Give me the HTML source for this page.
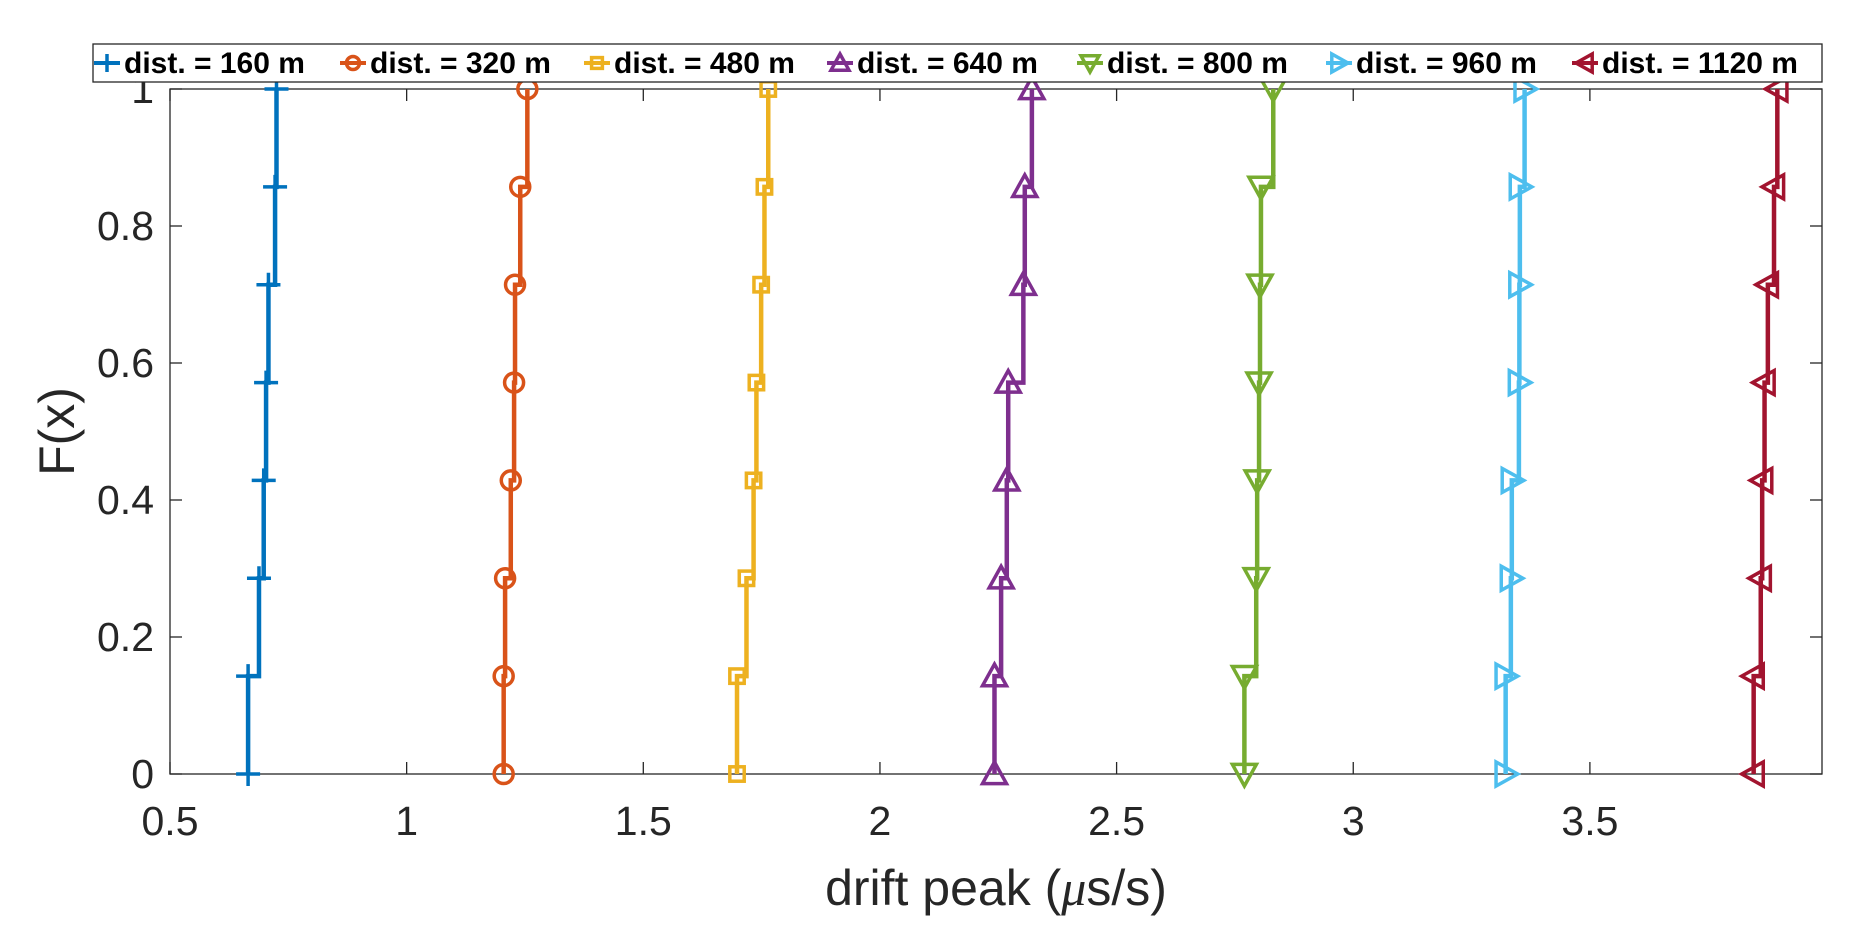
<!DOCTYPE html>
<html><head><meta charset="utf-8"><style>
html,body{margin:0;padding:0;background:#fff;}
svg{display:block;font-family:"Liberation Sans",sans-serif;}
</style></head><body>
<svg id="chart" width="1862" height="931" viewBox="0 0 1862 931" xmlns="http://www.w3.org/2000/svg">
<g id="axes"></g>
<g id="series"></g>
<g id="legend"></g>
</svg>
<script>
const seriesNames = ["dist. = 160 m","dist. = 320 m","dist. = 480 m","dist. = 640 m","dist. = 800 m","dist. = 960 m","dist. = 1120 m"];
const cdfLevels = [0,1/7,2/7,3/7,4/7,5/7,6/7,1];
const d160 = [0.665,0.665,0.688,0.698,0.703,0.708,0.722,0.725];
const d320 = [1.205,1.205,1.208,1.220,1.227,1.229,1.240,1.255];
const d480 = [1.698,1.698,1.718,1.733,1.739,1.749,1.756,1.764];
const d640 = [2.242,2.242,2.256,2.268,2.271,2.303,2.306,2.321];
const d800 = [2.770,2.770,2.795,2.797,2.801,2.803,2.805,2.831];
const d960 = [3.322,3.322,3.333,3.335,3.350,3.351,3.352,3.362];
const d1120 = [3.846,3.846,3.861,3.864,3.869,3.876,3.889,3.896];
const seriesData = [d160,d320,d480,d640,d800,d960,d1120];
const xTicks = [0.5,1,1.5,2,2.5,3,3.5];
const xTickLabels = ["0.5","1","1.5","2","2.5","3","3.5"];
const yTicks = [0,0.2,0.4,0.6,0.8,1];
const yTickLabels = ["0","0.2","0.4","0.6","0.8","1"];

const colors = ["#0072BD","#D95319","#EDB120","#7E2F8E","#77AC30","#4DBEEE","#A2142F"];
const markers = ["plus","circle","square","tri-up","tri-down","tri-right","tri-left"];
const L=170,R=1822,T=89,B=774, X0=0.5, X1=0.5+(R-L)/473.3;
const xs=v=>L+(v-X0)/(X1-X0)*(R-L);
const ys=v=>B-v*(B-T);
const NS="http://www.w3.org/2000/svg";
function mk(tag,attrs,parent){const e=document.createElementNS(NS,tag);for(const k in attrs)e.setAttribute(k,attrs[k]);parent.appendChild(e);return e;}
const axes=document.getElementById('axes'),ser=document.getElementById('series'),leg=document.getElementById('legend');
const box=mk('rect',{x:L,y:T,width:R-L,height:B-T,fill:'#fff',stroke:'#262626','stroke-width':1.3},axes);


xTicks.forEach((t,i)=>{const x=xs(t);
 mk('line',{x1:x,x2:x,y1:B,y2:B-12,stroke:'#262626','stroke-width':1.3},axes);
 mk('line',{x1:x,x2:x,y1:T,y2:T+12,stroke:'#262626','stroke-width':1.3},axes);
 const tx=mk('text',{x:x,y:B+61,'text-anchor':'middle','font-size':41,fill:'#262626'},axes);tx.textContent=xTickLabels[i];
 
 
});
yTicks.forEach((t,i)=>{const y=ys(t);
 mk('line',{x1:L,x2:L+12,y1:y,y2:y,stroke:'#262626','stroke-width':1.3},axes);
 mk('line',{x1:R,x2:R-12,y1:y,y2:y,stroke:'#262626','stroke-width':1.3},axes);
 const tx=mk('text',{x:L-16,y:y+14,'text-anchor':'end','font-size':41,fill:'#262626'},axes);tx.textContent=yTickLabels[i];
 
 
});
const xl=mk('text',{x:(L+R)/2,y:905,'text-anchor':'middle','font-size':50,fill:'#262626'},axes);
xl.innerHTML='drift peak (<tspan font-family="Liberation Serif" font-style="italic">μ</tspan>s/s)';


const yl=mk('text',{x:0,y:0,'text-anchor':'middle','font-size':50,fill:'#262626',transform:`translate(74,${(T+B)/2}) rotate(-90)`},axes);
yl.textContent='F(x)';



function marker(type,cx,cy,col,g,sz){const s=sz||12,a={fill:'none',stroke:col,'stroke-width':3.5};
 if(type==='plus'){mk('path',Object.assign({d:`M${cx-s} ${cy}H${cx+s}M${cx} ${cy-s}V${cy+s}`},a),g);}
 else if(type==='circle'){mk('circle',Object.assign({cx:cx,cy:cy,r:s-2.5},a),g);}
 else if(type==='square'){mk('rect',Object.assign({x:cx-s*0.6,y:cy-s*0.6,width:s*1.2,height:s*1.2},a),g);}
 else{let p;const h=s;
  if(type==='tri-up')p=[[cx,cy-h],[cx+h,cy+h*0.8],[cx-h,cy+h*0.8]];
  if(type==='tri-down')p=[[cx,cy+h],[cx+h,cy-h*0.8],[cx-h,cy-h*0.8]];
  if(type==='tri-right')p=[[cx+h,cy],[cx-h*0.8,cy-h],[cx-h*0.8,cy+h]];
  if(type==='tri-left')p=[[cx-h,cy],[cx+h*0.8,cy-h],[cx+h*0.8,cy+h]];
  mk('polygon',Object.assign({points:p.map(q=>q.join(',')).join(' ')},a),g);}
}
seriesData.forEach((d,si)=>{
 const g=mk('g',{},ser);
 
 
 let path=`M${xs(d[0])} ${ys(cdfLevels[0])}`;
 for(let i=1;i<d.length;i++){path+=`H${xs(d[i])}V${ys(cdfLevels[i])}`;}
 mk('path',{d:path,fill:'none',stroke:colors[si],'stroke-width':4.5},g);
 d.forEach((v,i)=>marker(markers[si],xs(v),ys(cdfLevels[i]),colors[si],g));
});
const lb=mk('rect',{x:93,y:44,width:R-93,height:38,fill:'#fff',stroke:'#262626','stroke-width':1.3},leg);


const legC=[107,353,597,840,1090,1339,1585];
seriesNames.forEach((n,i)=>{const c=legC[i],y=63;
 const g=mk('g',{},leg);
 
 
 mk('line',{x1:c-13,x2:c+13,y1:y,y2:y,stroke:colors[i],'stroke-width':4},g);
 marker(markers[i],c,y,colors[i],g,9);
 const t=mk('text',{x:c+17,y:y+10,'font-size':30,'font-weight':'bold',fill:'#000'},g);t.textContent=n;
});
</script>
</body></html>
